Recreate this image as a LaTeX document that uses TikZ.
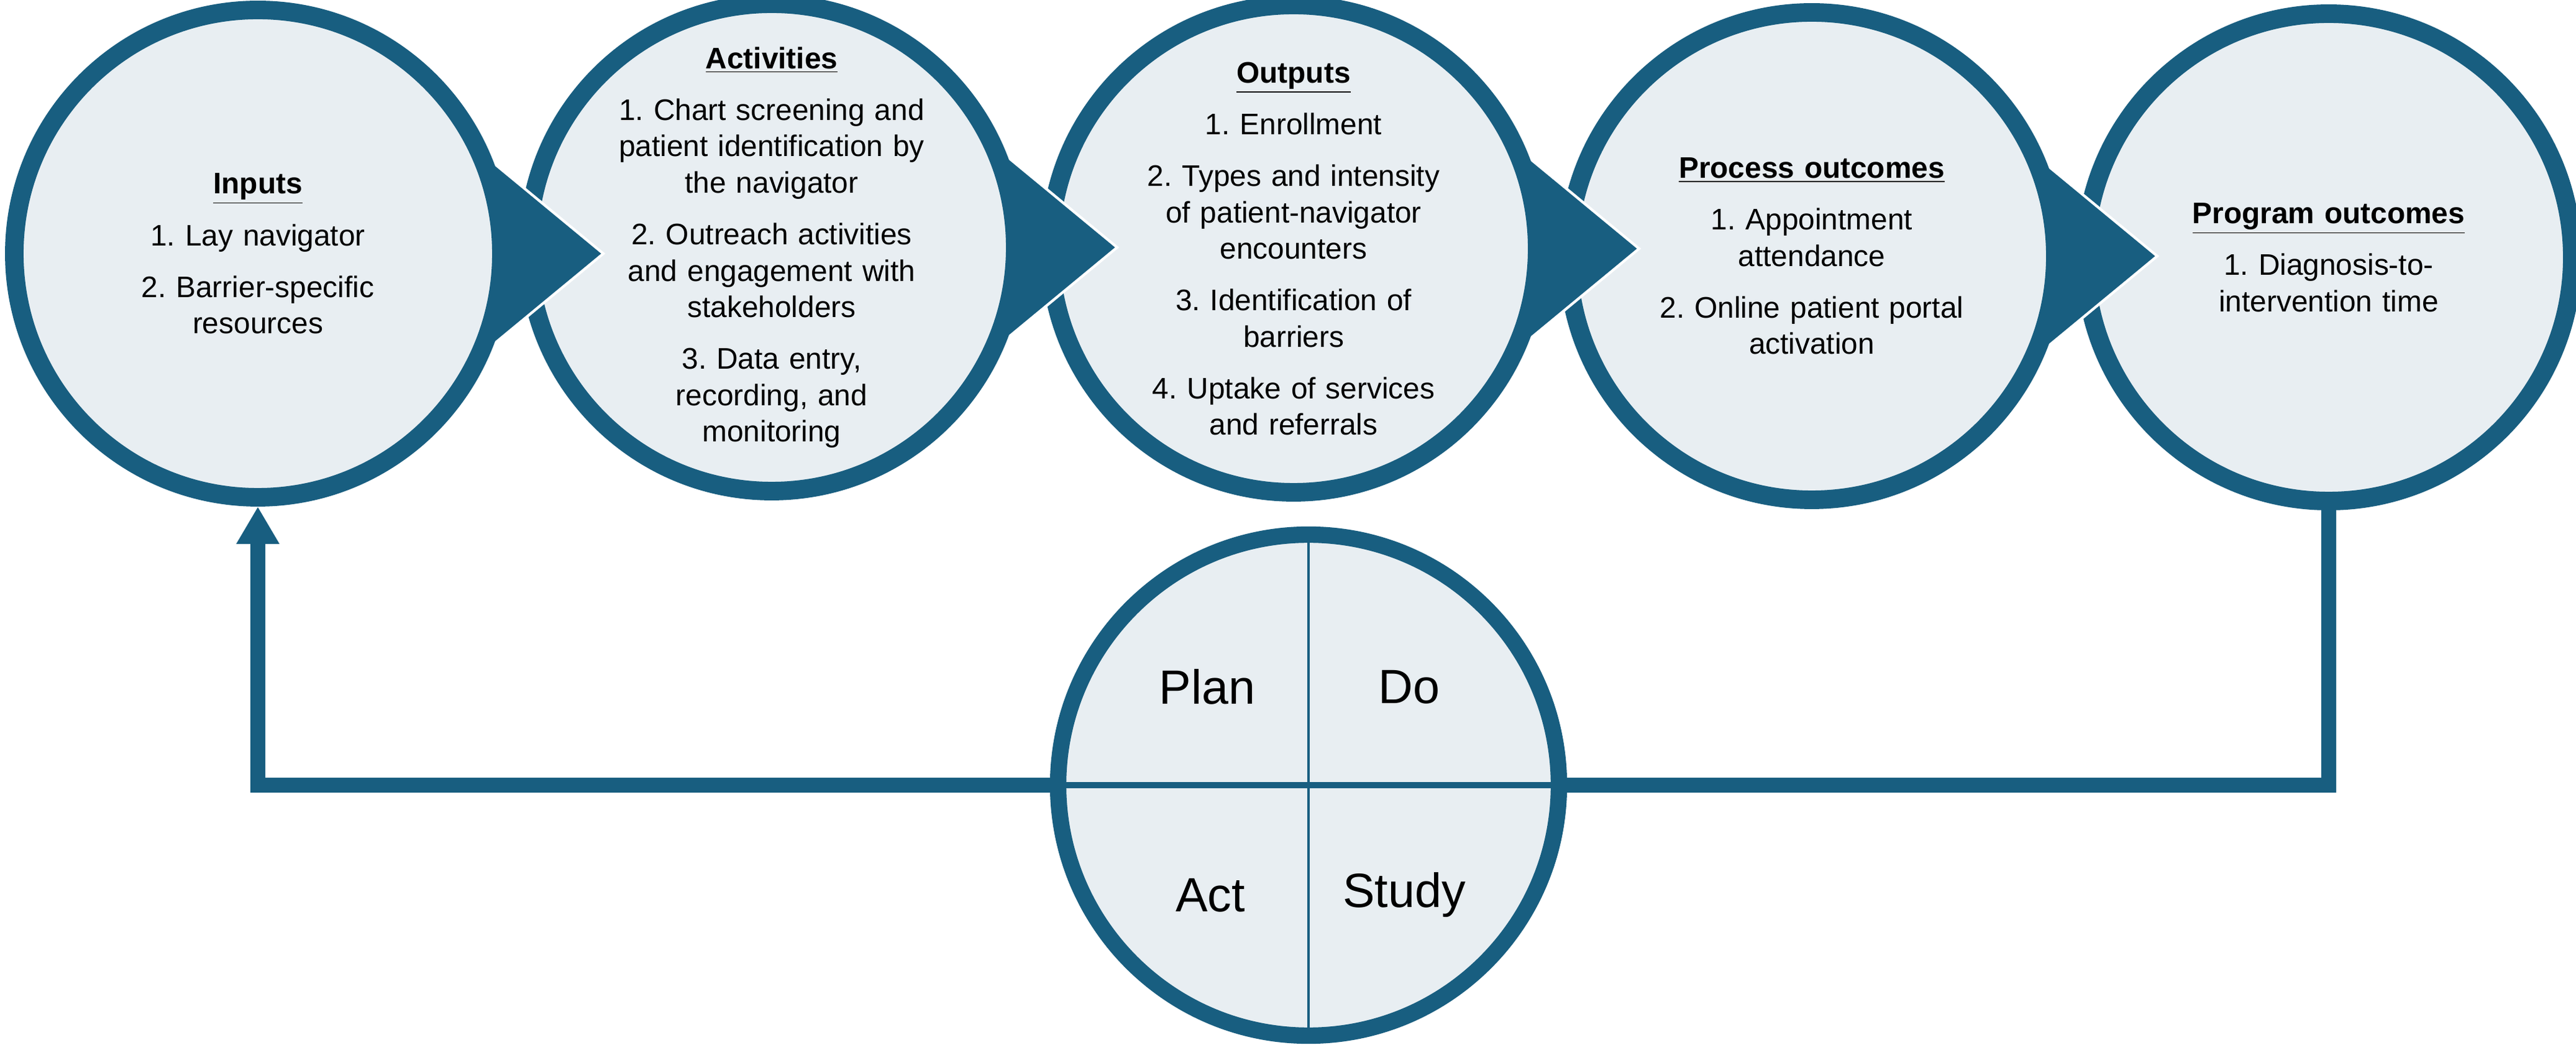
\documentclass[tikz,border=0pt]{standalone}
\usepackage{fontspec}
\setmainfont{Liberation Sans}
\usetikzlibrary{calc,arrows.meta}
\definecolor{dk}{HTML}{185E80}
\definecolor{lt}{HTML}{E8EEF2}
\newcommand{\hd}[1]{\textbf{\underline{#1}}}
\frenchspacing
\begin{document}
\begin{tikzpicture}[
  ring/.style={circle,draw=dk,fill=lt,line width=8.5pt,minimum size=7.84cm,inner sep=0pt},
  pd/.style={circle,draw=dk,fill=lt,line width=7.5pt,minimum size=8.06cm,inner sep=0pt},
  txt/.style={align=center,font=\fontsize{13.6}{16.6}\selectfont,text width=5.6cm,inner sep=0pt},
  big/.style={font=\fontsize{22}{26}\selectfont,inner sep=0pt},
  wedge/.style={fill=dk,draw=white,line width=1.2pt},
  conn/.style={draw=dk,line width=6.8pt},
]
\useasboundingbox (0,0) rectangle (41.46,16.8);
\coordinate (cin) at (4.15,12.72);
\coordinate (cact) at (12.42,12.82);
\coordinate (cout) at (20.82,12.8);
\coordinate (cpro) at (29.16,12.68);
\coordinate (cprg) at (37.48,12.66);
% circles, right to left, with wedges
\node[ring] (prg) at (cprg) {};
\foreach \c/\n in {cpro/pro,cout/out,cact/act,cin/in}{
  \fill[wedge] ($(\c)+(25:3.92)$) -- ($(\c)+(5.56,0)$) -- ($(\c)+(-25:3.92)$) -- (\c) -- cycle;
  \node[ring] (\n) at (\c) {};
}
\node[txt] (tin) at (in.center) {\hd{Inputs}\\[0.25cm]1. Lay navigator\\[0.25cm]2. Barrier-specific\\resources};
\node[txt] (tact) at (act.center) {\hd{Activities}\\[0.25cm]1. Chart screening and\\patient identification by\\the navigator\\[0.25cm]2. Outreach activities\\and engagement with\\stakeholders\\[0.25cm]3. Data entry,\\recording, and\\monitoring};
\node[txt] (tout) at (out.center) {\hd{Outputs}\\[0.25cm]1. Enrollment\\[0.25cm]2. Types and intensity\\of patient-navigator\\encounters\\[0.25cm]3. Identification of\\barriers\\[0.25cm]4. Uptake of services\\and referrals};
\node[txt] (tpro) at (pro.center) {\hd{Process outcomes}\\[0.25cm]1. Appointment\\attendance\\[0.25cm]2. Online patient portal\\activation};
\node[txt] (tprg) at (prg.center) {\hd{Program outcomes}\\[0.25cm]1. Diagnosis-to-\\intervention time};
% PDCA
\node[pd] (pdca) at (21.06,4.17) {};
\draw[dk,line width=1.2pt] (pdca.north) -- (pdca.south);
\draw[dk,line width=2.8pt] (pdca.west) -- (pdca.east);
\node[big] (plan) at (19.43,5.75) {Plan};
\node[big] (do) at (22.68,5.75) {Do};
\node[big] (actn) at (19.48,2.4) {Act};
\node[big] (study) at (22.6,2.4) {Study};
% feedback loop
\draw[conn,-{Triangle[width=0.65cm,length=0.6cm]}] (pdca.west) -| (in.south);
\draw[conn] (prg.south) |- (pdca.east);
\end{tikzpicture}
\end{document}
